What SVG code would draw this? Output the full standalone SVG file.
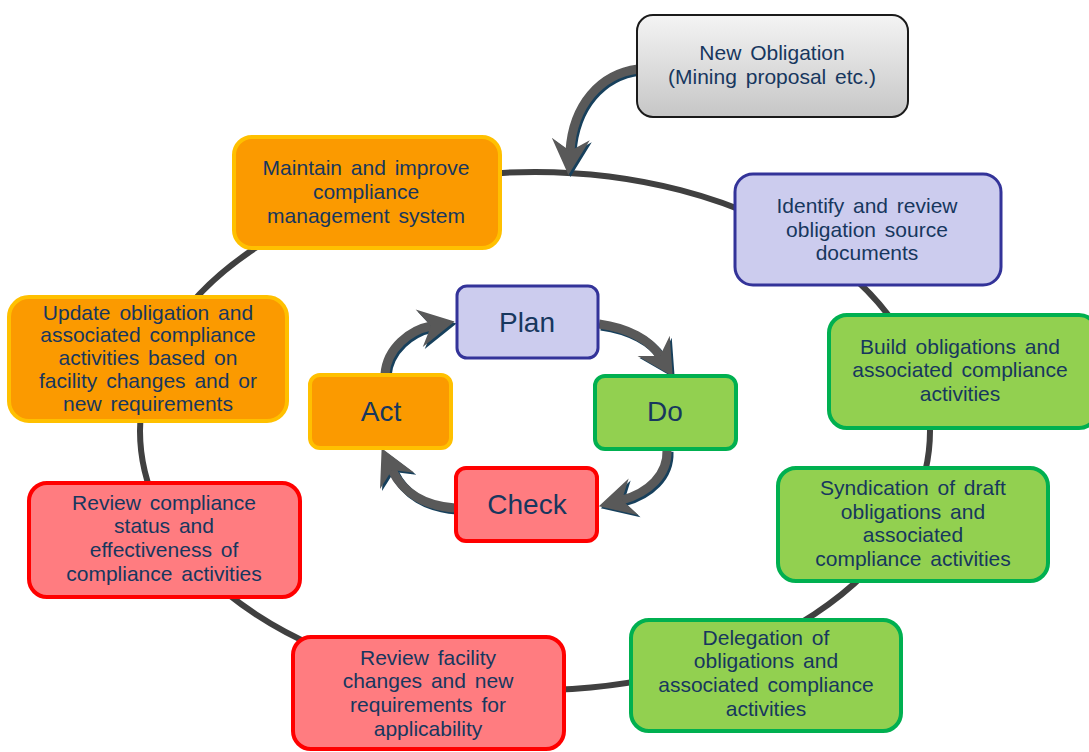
<svg xmlns="http://www.w3.org/2000/svg" width="1089" height="752" viewBox="0 0 1089 752">
<defs>
<linearGradient id="gray" x1="0" y1="0" x2="0" y2="1">
<stop offset="0" stop-color="#f4f4f4"/>
<stop offset="1" stop-color="#c6c6c6"/>
</linearGradient>
<marker id="hg" markerUnits="userSpaceOnUse" markerWidth="44" markerHeight="44" viewBox="-6 -22 44 44" refX="8" refY="0" orient="auto">
<path d="M-4,-19 L32,0 L-4,19 L8,0 Z" fill="#595959"/>
</marker>
<marker id="hd" markerUnits="userSpaceOnUse" markerWidth="44" markerHeight="44" viewBox="-6 -22 44 44" refX="8" refY="0" orient="auto">
<path d="M-4,-19 L32,0 L-4,19 L8,0 Z" fill="#17405c"/>
</marker>
</defs>
<style>
text{font-family:"Liberation Sans",Arial,sans-serif;fill:#17375e;text-anchor:middle}
.t{font-size:21px;word-spacing:3px}
.p{font-size:28px}
.org{fill:#fb9a00;stroke:#ffc000;stroke-width:4}
.blu{fill:#ccccee;stroke:#333399;stroke-width:3}
.grn{fill:#92d050;stroke:#00b050;stroke-width:4}
.red{fill:#ff7c80;stroke:#ff0000;stroke-width:4}
.gry{fill:url(#gray);stroke:#1a1a1a;stroke-width:2}
.ring{fill:none;stroke:#404040;stroke-width:6}
.sh{fill:none;stroke:#17405c;stroke-width:9}
.ar{fill:none;stroke:#595959;stroke-width:9}
</style>
<g id="connectors">
<ellipse class="ring" cx="535" cy="431" rx="395" ry="259"/>
<g transform="translate(2,2)">
<path class="sh" marker-end="url(#hd)" d="M638 69 C600 74,573 105,570 151"/>
<path class="sh" marker-end="url(#hd)" d="M385 374 C387 348,410 330,431 326"/>
<path class="sh" marker-end="url(#hd)" d="M599 324 C628 328,650 340,660 356"/>
<path class="sh" marker-end="url(#hd)" d="M667 450 C668 475,648 493,622 500"/>
<path class="sh" marker-end="url(#hd)" d="M455 508 C425 506,403 493,392 470"/>
</g>
<path class="ar" marker-end="url(#hg)" d="M638 69 C600 74,573 105,570 151"/>
<path class="ar" marker-end="url(#hg)" d="M385 374 C387 348,410 330,431 326"/>
<path class="ar" marker-end="url(#hg)" d="M599 324 C628 328,650 340,660 356"/>
<path class="ar" marker-end="url(#hg)" d="M667 450 C668 475,648 493,622 500"/>
<path class="ar" marker-end="url(#hg)" d="M455 508 C425 506,403 493,392 470"/>
</g>
<g id="new-obligation">
<rect class="gry" x="637" y="15" width="271" height="102" rx="16"/>
<text class="t" x="772" y="60">New Obligation</text>
<text class="t" x="772" y="84">(Mining proposal etc.)</text>
</g>
<g id="maintain">
<rect class="org" x="234" y="137" width="266" height="111" rx="18"/>
<text class="t" x="366" y="175">Maintain and improve</text>
<text class="t" x="366" y="199">compliance</text>
<text class="t" x="366" y="223">management system</text>
</g>
<g id="identify">
<rect class="blu" x="735" y="174" width="266" height="111" rx="18"/>
<text class="t" x="867" y="213">Identify and review</text>
<text class="t" x="867" y="237">obligation source</text>
<text class="t" x="867" y="260">documents</text>
</g>
<g id="build">
<rect class="grn" x="829" y="315" width="268" height="113" rx="18"/>
<text class="t" x="960" y="354">Build obligations and</text>
<text class="t" x="960" y="377">associated compliance</text>
<text class="t" x="960" y="401">activities</text>
</g>
<g id="syndication">
<rect class="grn" x="778" y="468" width="270" height="113" rx="18"/>
<text class="t" x="913" y="495">Syndication of draft</text>
<text class="t" x="913" y="519">obligations and</text>
<text class="t" x="913" y="542">associated</text>
<text class="t" x="913" y="566">compliance activities</text>
</g>
<g id="delegation">
<rect class="grn" x="631" y="620" width="270" height="111" rx="18"/>
<text class="t" x="766" y="645">Delegation of</text>
<text class="t" x="766" y="668">obligations and</text>
<text class="t" x="766" y="692">associated compliance</text>
<text class="t" x="766" y="716">activities</text>
</g>
<g id="review-facility">
<rect class="red" x="293" y="637" width="271" height="112" rx="18"/>
<text class="t" x="428" y="665">Review facility</text>
<text class="t" x="428" y="688">changes and new</text>
<text class="t" x="428" y="712">requirements for</text>
<text class="t" x="428" y="736">applicability</text>
</g>
<g id="review-compliance">
<rect class="red" x="29" y="483" width="271" height="114" rx="18"/>
<text class="t" x="164" y="510">Review compliance</text>
<text class="t" x="164" y="533">status and</text>
<text class="t" x="164" y="557">effectiveness of</text>
<text class="t" x="164" y="581">compliance activities</text>
</g>
<g id="update">
<rect class="org" x="9" y="297" width="278" height="124" rx="20"/>
<text class="t" x="148" y="320">Update obligation and</text>
<text class="t" x="148" y="342">associated compliance</text>
<text class="t" x="148" y="365">activities based on</text>
<text class="t" x="148" y="388">facility changes and or</text>
<text class="t" x="148" y="411">new requirements</text>
</g>
<g id="plan">
<rect class="blu" x="457" y="286" width="141" height="72" rx="10"/>
<text class="p" x="527" y="332">Plan</text>
</g>
<g id="do">
<rect class="grn" x="595" y="376" width="141" height="73" rx="10"/>
<text class="p" x="665" y="421">Do</text>
</g>
<g id="check">
<rect class="red" x="456" y="468" width="141" height="73" rx="10"/>
<text class="p" x="527" y="514">Check</text>
</g>
<g id="act">
<rect class="org" x="310" y="375" width="141" height="73" rx="10"/>
<text class="p" x="381" y="421">Act</text>
</g>
</svg>
